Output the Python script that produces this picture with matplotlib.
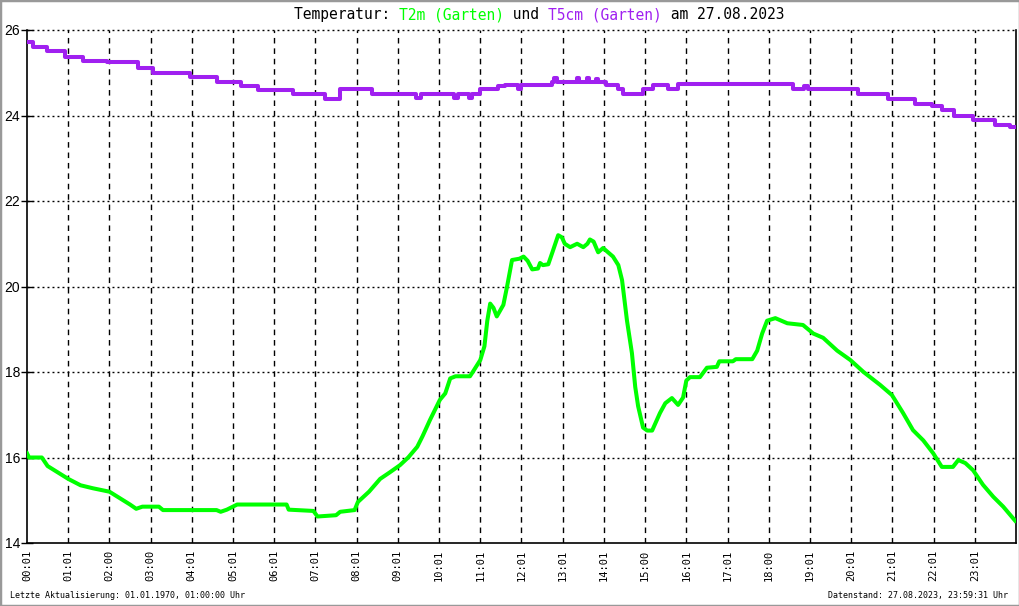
import matplotlib
matplotlib.use("Agg")
import matplotlib.pyplot as plt
from matplotlib.patches import Rectangle

plt.rcParams['font.family'] = ['DejaVu Sans Mono']
plt.rcParams['lines.scale_dashes'] = False

# T2m (Garten) - Stunden / Temperatur
t2m_h = [0.0, 0.05, 0.36, 0.5, 0.75, 1.0, 1.3, 1.6, 2.0, 2.25, 2.5, 2.65, 2.8, 3.0, 3.2, 3.3,
         4.6, 4.7, 4.85, 5.1, 6.3, 6.35, 6.95, 7.05, 7.5, 7.6, 7.95, 8.03, 8.3, 8.57, 8.8,
         9.05, 9.25, 9.47, 9.6, 9.78, 10.02, 10.15, 10.27, 10.4, 10.75, 10.85, 11.0, 11.1,
         11.17, 11.24, 11.32, 11.4, 11.56, 11.65, 11.77, 11.95, 12.05, 12.15, 12.26, 12.4,
         12.45, 12.52, 12.65, 12.75, 12.89, 12.98, 13.05, 13.18, 13.35, 13.5, 13.6, 13.66,
         13.75, 13.86, 13.98, 14.22, 14.35, 14.44, 14.56, 14.68, 14.76, 14.83, 14.95, 15.05,
         15.17, 15.36, 15.49, 15.65, 15.8, 15.92, 16.0, 16.09, 16.33, 16.5, 16.74, 16.8,
         17.13, 17.2, 17.6, 17.72, 17.84, 17.96, 18.16, 18.45, 18.83, 19.08, 19.32, 19.66,
         19.98, 20.3, 20.7, 20.99, 21.26, 21.5, 21.75, 21.99, 22.2, 22.47, 22.6, 22.77,
         22.96, 23.2, 23.45, 23.69, 23.98]
t2m_v = [16.1, 16.0, 16.0, 15.8, 15.65, 15.5, 15.35, 15.28, 15.2, 15.05, 14.9, 14.8, 14.85,
         14.85, 14.85, 14.77, 14.77, 14.73, 14.78, 14.9, 14.9, 14.78, 14.75, 14.62, 14.65,
         14.73, 14.77, 14.96, 15.2, 15.5, 15.65, 15.82, 16.0, 16.25, 16.5, 16.88, 17.35,
         17.5, 17.85, 17.9, 17.9, 18.05, 18.28, 18.6, 19.2, 19.6, 19.5, 19.3, 19.57, 20.0,
         20.62, 20.65, 20.7, 20.6, 20.4, 20.42, 20.55, 20.5, 20.52, 20.8, 21.2, 21.15, 21.0,
         20.92, 21.0, 20.92, 21.0, 21.1, 21.05, 20.8, 20.9, 20.7, 20.5, 20.15, 19.2, 18.44,
         17.65, 17.2, 16.7, 16.63, 16.63, 17.04, 17.27, 17.39, 17.23, 17.4, 17.8, 17.88,
         17.88, 18.1, 18.12, 18.25, 18.25, 18.3, 18.3, 18.5, 18.9, 19.2, 19.26, 19.14, 19.1,
         18.9, 18.8, 18.5, 18.28, 18.0, 17.7, 17.46, 17.04, 16.64, 16.4, 16.1, 15.78, 15.78,
         15.94, 15.87, 15.7, 15.36, 15.08, 14.85, 14.52]

# T5cm (Garten) - Stufen
t5_h = [0.0, 0.15, 0.48, 0.92, 1.36, 1.94, 2.7, 3.06, 3.96, 4.6, 5.2, 5.6, 6.46, 7.23, 7.6,
        8.37, 9.45, 9.55, 10.35, 10.45, 10.72, 10.8, 11.0, 11.44, 11.6, 11.92, 11.98, 12.75,
        12.8, 12.85, 13.35, 13.4, 13.6, 13.65, 13.8, 13.85, 14.04, 14.35, 14.47, 14.95, 15.2,
        15.55, 15.8, 18.6, 18.85, 18.95, 20.17, 20.9, 21.55, 21.96, 22.2, 22.5, 22.95, 23.5,
        23.85, 24.0]
t5_v = [25.72, 25.6, 25.5, 25.38, 25.27, 25.24, 25.1, 25.0, 24.9, 24.78, 24.7, 24.6, 24.5,
        24.38, 24.62, 24.5, 24.42, 24.5, 24.42, 24.5, 24.42, 24.5, 24.62, 24.7, 24.71, 24.62,
        24.71, 24.79, 24.88, 24.79, 24.87, 24.79, 24.87, 24.79, 24.86, 24.79, 24.71, 24.62,
        24.5, 24.62, 24.71, 24.62, 24.73, 24.62, 24.7, 24.62, 24.5, 24.39, 24.27, 24.23,
        24.12, 24.0, 23.9, 23.78, 23.73, 23.73]

x_labels = ['00:01', '01:01', '02:00', '03:00', '04:01', '05:01', '06:01', '07:01', '08:01',
            '09:01', '10:01', '11:01', '12:01', '13:01', '14:01', '15:00', '16:01', '17:01',
            '18:00', '19:01', '20:01', '21:01', '22:01', '23:01']
y_ticks = [14, 16, 18, 20, 22, 24, 26]

GREEN = '#00ff00'
PURPLE = '#a020f0'

fig = plt.figure(figsize=(10.2, 6.06), dpi=100)
fig.patches.append(Rectangle((0, 0), 1, 1, transform=fig.transFigure, fill=False,
                             edgecolor='#999999', linewidth=2.5))
ax = fig.add_axes([27 / 1020, 1 - 543 / 606, 989 / 1020, 513 / 606])

ax.set_xlim(0, 24)
ax.set_ylim(14, 26)

# Gitter
for h in range(1, 24):
    ax.axvline(h, color='black', lw=1, linestyle=(0, (4, 3.5)), zorder=1)
for v in y_ticks[1:]:
    ax.axhline(v, color='black', lw=1, linestyle=(0, (1.4, 2.2)), zorder=1, clip_on=False)

ax.plot(t2m_h, t2m_v, color=GREEN, lw=2.9, zorder=3)
ax.plot(t5_h, t5_v, color=PURPLE, lw=2.9, drawstyle='steps-post', zorder=3)

ax.spines['top'].set_visible(False)
for s in ['left', 'bottom', 'right']:
    ax.spines[s].set_linewidth(1.2)

ax.set_xticks(range(24))
ax.set_xticklabels(x_labels, rotation=90, fontsize=7.5, va='top')
ax.tick_params(axis='x', length=0, pad=5)
ax.set_yticks(y_ticks)
ax.set_yticklabels([str(v) for v in y_ticks], fontsize=10, family=['Liberation Sans'])
ax.tick_params(axis='y', length=8, pad=1, width=1, direction='inout')

# Titel in Stücken
parts = [('Temperatur: ', 'black'), ('T2m (Garten)', GREEN), (' und ', 'black'),
         ('T5cm (Garten)', PURPLE), (' am 27.08.2023', 'black')]
fig.canvas.draw()
r = fig.canvas.get_renderer()
widths = []
tmp = []
for txt, c in parts:
    t = fig.text(0, 0, txt, fontsize=10.5, color=c)
    widths.append(t.get_window_extent(r).width)
    tmp.append(t)
total = sum(widths)
x0 = 539 - total / 2
for t, w in zip(tmp, widths):
    t.set_position((x0 / 1020, 1 - 19 / 606))
    x0 += w

fig.text(10 / 1020, 1 - 598 / 606, 'Letzte Aktualisierung: 01.01.1970, 01:00:00 Uhr',
         fontsize=6, va='baseline')
fig.text(1008 / 1020, 1 - 598 / 606, 'Datenstand: 27.08.2023, 23:59:31 Uhr',
         fontsize=6, ha='right', va='baseline')

fig.savefig('out.png', dpi=100)
